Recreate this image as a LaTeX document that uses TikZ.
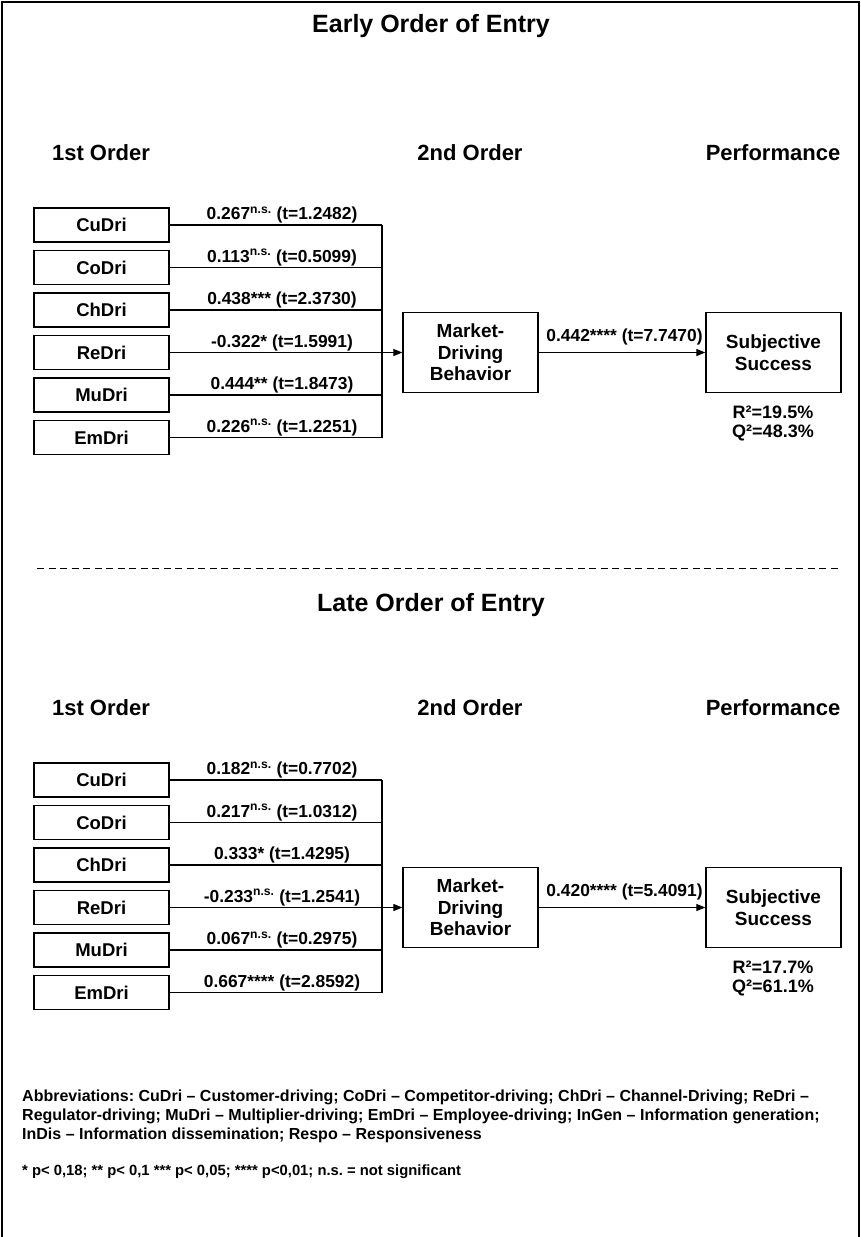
\documentclass[tikz,border=0pt]{standalone}
\usepackage{fontspec}
\setmainfont{Liberation Sans}
\usetikzlibrary{arrows.meta}
\newcommand{\nsig}{\textsuperscript{n.s.}}
\frenchspacing
\begin{document}
\begin{tikzpicture}[x=1pt,y=-1pt,
  box/.style={draw, line width=1.3pt, minimum width=135pt, minimum height=34pt, inner sep=0pt, font=\fontsize{18.5}{18.5}\selectfont\bfseries},
  bigbox/.style={draw, line width=1.3pt, minimum width=135pt, minimum height=80pt, inner sep=0pt, align=center, font=\fontsize{19}{21.5}\selectfont\bfseries},
  conn/.style={line width=1.2pt},
  arr/.style={conn, -{Triangle[length=9pt,width=7pt]}},
  coef/.style={font=\fontsize{17.4}{17.4}\selectfont\bfseries, inner sep=0pt},
  head/.style={font=\fontsize{22}{22}\selectfont\bfseries, inner sep=0pt},
  ttl/.style={font=\fontsize{25}{25}\selectfont\bfseries, inner sep=0pt},
  stat/.style={font=\fontsize{18}{18}\selectfont\bfseries, inner sep=0pt},
  note/.style={font=\fontsize{16}{19}\selectfont\bfseries, inner sep=0pt, align=left}]
\useasboundingbox (0,0) rectangle (861,1237);
% frame
\draw[line width=1.5pt] (2,1237) -- (2,2) -- (859,2) -- (859,1237);

% ===== Early =====
\node[ttl] (t1) at (431,26) {Early Order of Entry};
\node[head] (h11) at (101,153) {1st Order};
\node[head] (h12) at (470,153) {2nd Order};
\node[head] (h13) at (773,153) {Performance};
\foreach \i/\nm/\lab in {1/CuDri/{0.267\nsig{} (t=1.2482)},2/CoDri/{0.113\nsig{} (t=0.5099)},3/ChDri/{0.438*** (t=2.3730)},4/ReDri/{-0.322* (t=1.5991)},5/MuDri/{0.444** (t=1.8473)},6/EmDri/{0.226\nsig{} (t=1.2251)}}{
  \node[box] (e\i) at (101.5,{225+42.5*(\i-1)}) {\nm};
  \node[coef, anchor=base] (ec\i) at (282,{225+42.5*(\i-1)-5.5}) {\lab};
}
\node[bigbox] (em) at (470.5,352.5) {Market-\\Driving\\Behavior};
\node[bigbox] (es) at (773.5,352.5) {Subjective\\Success};
\coordinate (etop) at (382,225);
\coordinate (ebot) at (382,437.5);
\foreach \i in {1,2,3,5,6}{\draw[conn] (e\i.east) -- (e\i.east -| etop);}
\draw[conn] (etop) -- (ebot);
\draw[arr] (e4.east) -- (em.west);
\draw[arr] (em.east) -- (es.west);
\node[coef, anchor=base] (ecm) at (624.5,341) {0.442**** (t=7.7470)};
\node[stat] (er) at (773,412) {R²=19.5\%};
\node[stat] (eq) at (773,433) {Q²=48.3\%};

% separator
\draw[line width=1pt, dash pattern=on 7pt off 4.5pt] (37,568) -- (840,568);

% ===== Late =====
\node[ttl] (t2) at (431,605) {Late Order of Entry};
\node[head] (h21) at (101,708) {1st Order};
\node[head] (h22) at (470,708) {2nd Order};
\node[head] (h23) at (773,708) {Performance};
\foreach \i/\nm/\lab in {1/CuDri/{0.182\nsig{} (t=0.7702)},2/CoDri/{0.217\nsig{} (t=1.0312)},3/ChDri/{0.333* (t=1.4295)},4/ReDri/{-0.233\nsig{} (t=1.2541)},5/MuDri/{0.067\nsig{} (t=0.2975)},6/EmDri/{0.667**** (t=2.8592)}}{
  \node[box] (l\i) at (101.5,{780+42.5*(\i-1)}) {\nm};
  \node[coef, anchor=base] (lc\i) at (282,{780+42.5*(\i-1)-5.5}) {\lab};
}
\node[bigbox] (lm) at (470.5,907.5) {Market-\\Driving\\Behavior};
\node[bigbox] (ls) at (773.5,907.5) {Subjective\\Success};
\coordinate (ltop) at (382,780);
\coordinate (lbot) at (382,992.5);
\foreach \i in {1,2,3,5,6}{\draw[conn] (l\i.east) -- (l\i.east -| ltop);}
\draw[conn] (ltop) -- (lbot);
\draw[arr] (l4.east) -- (lm.west);
\draw[arr] (lm.east) -- (ls.west);
\node[coef, anchor=base] (lcm) at (624.5,896) {0.420**** (t=5.4091)};
\node[stat] (lr) at (773,967) {R²=17.7\%};
\node[stat] (lq) at (773,988) {Q²=61.1\%};

% notes
\node[note, anchor=west] (abbr) at (22,1116) {Abbreviations: CuDri – Customer-driving; CoDri – Competitor-driving; ChDri – Channel-Driving; ReDri –\\Regulator-driving; MuDri – Multiplier-driving; EmDri – Employee-driving; InGen – Information generation;\\InDis – Information dissemination; Respo – Responsiveness};
\node[note, anchor=west, font=\fontsize{14.8}{19}\selectfont\bfseries] (foot) at (22,1172) {* p< 0,18; ** p< 0,1 *** p< 0,05; **** p<0,01; n.s. = not significant};
\end{tikzpicture}
\end{document}
